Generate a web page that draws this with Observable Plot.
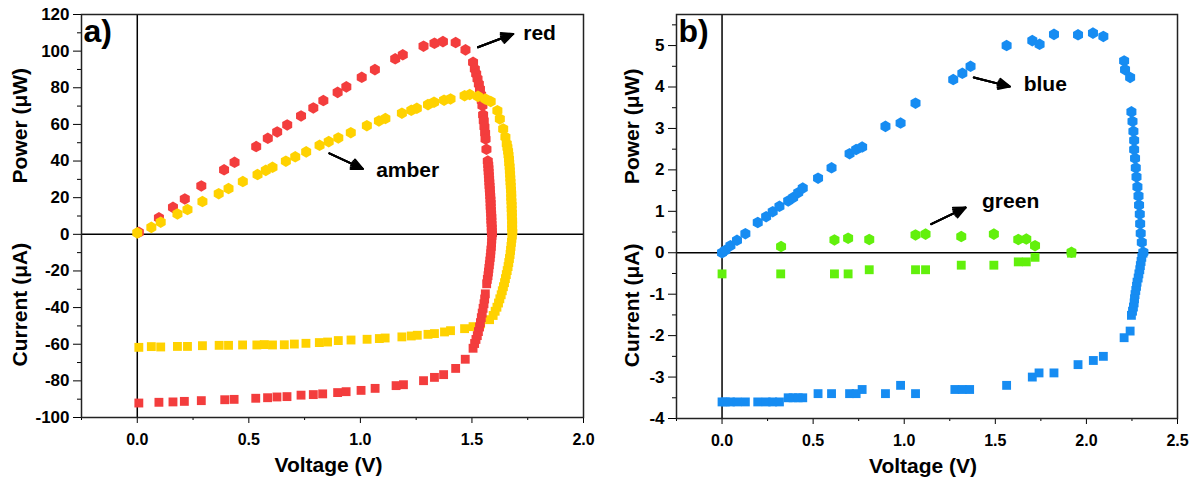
<!DOCTYPE html>
<html><head><meta charset="utf-8">
<script src="https://cdn.jsdelivr.net/npm/d3@7"></script>
<script src="https://cdn.jsdelivr.net/npm/@observablehq/plot@0.6"></script>
<style>
html,body{margin:0;padding:0;background:#fff;}
#wrap{position:relative;width:1195px;height:489px;overflow:hidden;background:#fff;}
#pa{position:absolute;left:0;top:0;}
#pb{position:absolute;left:600px;top:0;}
</style></head><body><div id="wrap"><div id="pa"></div><div id="pb"></div></div>
<script>
// ---------- Panel a data: [Voltage (V), value] ----------
const redPower = [[0.007,1.1],[0.097,9.0],[0.160,14.7],[0.213,19.3],[0.287,26.4],[0.389,35.2],[0.436,39.3],[0.533,47.9],[0.585,52.4],[0.627,55.9],[0.672,59.7],[0.734,64.6],[0.789,69.0],[0.834,73.0],[0.898,77.5],[0.937,80.5],[1.006,85.7],[1.065,89.9],[1.156,95.8],[1.190,98.0],[1.283,102.7],[1.332,104.3],[1.370,105.2],[1.427,104.7],[1.471,100.7],[1.505,93.9],[1.513,90.2],[1.519,87.6],[1.525,84.9],[1.531,82.0],[1.536,79.3],[1.541,76.1],[1.544,73.0],[1.547,70.3],[1.550,65.2],[1.553,62.0],[1.556,58.7],[1.559,55.3],[1.561,52.0],[1.565,46.4],[1.571,40.0],[1.573,37.9],[1.574,36.0],[1.575,34.1],[1.576,32.2],[1.577,30.3],[1.578,28.4],[1.579,26.5],[1.580,24.6],[1.581,22.7],[1.582,20.8],[1.583,18.9],[1.584,17.0],[1.584,15.1],[1.585,13.2],[1.586,11.3],[1.587,9.4],[1.587,7.5],[1.588,5.6],[1.589,3.7],[1.589,1.8],[1.590,0.2]];
const redCurrent = [[0.007,-92.1],[0.097,-91.7],[0.160,-91.5],[0.211,-91.2],[0.287,-90.8],[0.392,-90.3],[0.434,-90.1],[0.531,-89.5],[0.584,-89.2],[0.626,-88.8],[0.671,-88.6],[0.734,-87.8],[0.789,-87.5],[0.831,-87.1],[0.898,-86.4],[0.936,-85.9],[1.003,-85.2],[1.066,-84.1],[1.160,-82.6],[1.193,-82.1],[1.283,-79.9],[1.332,-78.1],[1.373,-76.6],[1.427,-73.2],[1.470,-68.2],[1.505,-62.2],[1.512,-59.6],[1.518,-57.4],[1.524,-55.3],[1.529,-53.1],[1.534,-50.6],[1.538,-48.2],[1.542,-45.5],[1.546,-43.0],[1.550,-40.4],[1.554,-37.9],[1.557,-35.3],[1.560,-32.5],[1.566,-27.0],[1.569,-24.6],[1.572,-22.6],[1.574,-20.6],[1.576,-18.6],[1.578,-16.6],[1.580,-14.6],[1.582,-12.6],[1.584,-10.6],[1.585,-8.6],[1.587,-6.6],[1.588,-4.6],[1.589,-2.6],[1.590,-0.6]];
const amberPower = [[0.000,0.8],[0.063,3.8],[0.105,6.6],[0.180,11.1],[0.225,13.5],[0.292,17.9],[0.365,22.2],[0.409,25.0],[0.473,28.8],[0.539,32.6],[0.576,34.9],[0.606,36.6],[0.666,39.9],[0.708,42.3],[0.757,45.0],[0.817,48.6],[0.858,50.6],[0.901,52.6],[0.957,55.5],[1.029,59.3],[1.083,61.9],[1.112,63.2],[1.186,66.1],[1.228,67.7],[1.253,68.8],[1.303,70.8],[1.330,72.1],[1.375,73.2],[1.404,73.9],[1.467,75.7],[1.490,76.3],[1.527,75.3],[1.560,73.9],[1.584,72.5],[1.614,67.5],[1.625,63.0],[1.640,57.5],[1.650,53.0],[1.656,49.4],[1.659,47.4],[1.662,45.3],[1.664,43.2],[1.666,41.1],[1.667,39.0],[1.669,36.9],[1.670,34.8],[1.671,32.7],[1.672,30.6],[1.673,28.5],[1.674,26.4],[1.675,24.3],[1.676,22.2],[1.676,20.1],[1.677,18.0],[1.678,15.9],[1.678,13.8],[1.679,11.7],[1.679,9.6],[1.680,7.5],[1.680,5.4],[1.680,3.3],[1.681,1.2]];
const amberCurrent = [[0.007,-61.7],[0.063,-61.3],[0.105,-61.5],[0.180,-61.2],[0.225,-61.2],[0.292,-60.8],[0.367,-60.6],[0.409,-60.6],[0.472,-60.4],[0.536,-60.4],[0.569,-60.2],[0.606,-60.4],[0.659,-60.3],[0.704,-59.9],[0.756,-59.5],[0.816,-59.1],[0.853,-58.8],[0.901,-58.0],[0.958,-57.7],[1.030,-57.3],[1.085,-56.9],[1.111,-56.6],[1.186,-56.0],[1.228,-55.5],[1.255,-55.1],[1.303,-54.6],[1.332,-54.2],[1.377,-53.3],[1.404,-52.6],[1.467,-51.5],[1.505,-50.4],[1.539,-48.9],[1.579,-46.6],[1.595,-44.3],[1.604,-42.0],[1.612,-39.8],[1.619,-37.5],[1.625,-35.2],[1.631,-33.0],[1.636,-30.8],[1.641,-28.6],[1.646,-26.4],[1.650,-24.2],[1.654,-22.0],[1.658,-19.8],[1.662,-17.6],[1.665,-15.4],[1.668,-13.2],[1.671,-11.0],[1.673,-8.8],[1.675,-6.6],[1.677,-4.4],[1.679,-2.2],[1.681,-0.4]];

// ---------- Panel b data ----------
const bluePower = [[0.000,0.00],[0.018,0.06],[0.046,0.17],[0.082,0.30],[0.128,0.46],[0.196,0.73],[0.242,0.87],[0.278,0.99],[0.315,1.12],[0.363,1.25],[0.390,1.33],[0.418,1.45],[0.443,1.56],[0.527,1.80],[0.601,2.05],[0.700,2.39],[0.736,2.49],[0.769,2.55],[0.897,3.05],[0.980,3.13],[1.062,3.61],[1.269,4.18],[1.319,4.33],[1.364,4.50],[1.562,5.00],[1.703,5.12],[1.743,5.03],[1.822,5.27],[1.954,5.26],[2.036,5.30],[2.093,5.22],[2.207,4.63],[2.212,4.42],[2.240,4.23],[2.247,3.40],[2.253,3.17],[2.258,2.93],[2.262,2.71],[2.262,2.49],[2.267,2.28],[2.271,2.05],[2.275,1.83],[2.280,1.59],[2.286,1.37],[2.289,1.15],[2.293,0.93],[2.295,0.70],[2.298,0.47],[2.304,0.25],[2.313,0.01]];
const blueCurrent = [[0.000,-3.60],[0.018,-3.60],[0.046,-3.60],[0.082,-3.60],[0.128,-3.60],[0.196,-3.60],[0.242,-3.60],[0.278,-3.60],[0.315,-3.60],[0.363,-3.50],[0.390,-3.50],[0.418,-3.50],[0.443,-3.50],[0.527,-3.40],[0.601,-3.40],[0.700,-3.40],[0.736,-3.40],[0.769,-3.30],[0.897,-3.40],[0.980,-3.20],[1.062,-3.40],[1.278,-3.30],[1.319,-3.30],[1.359,-3.30],[1.562,-3.20],[1.703,-3.00],[1.740,-2.90],[1.822,-2.90],[1.954,-2.70],[2.038,-2.60],[2.093,-2.50],[2.207,-2.05],[2.240,-1.89],[2.247,-1.51],[2.253,-1.41],[2.258,-1.31],[2.262,-1.21],[2.264,-1.11],[2.267,-1.01],[2.271,-0.91],[2.275,-0.81],[2.278,-0.71],[2.284,-0.61],[2.288,-0.51],[2.293,-0.41],[2.296,-0.31],[2.300,-0.21],[2.304,-0.11],[2.311,-0.01]];
const greenPower = [[0.324,0.15],[0.617,0.31],[0.692,0.35],[0.808,0.32],[1.062,0.43],[1.117,0.45],[1.313,0.39],[1.492,0.45],[1.626,0.32],[1.670,0.33],[1.718,0.17],[1.918,0.01]];
const greenCurrent = [[0.000,-0.51],[0.322,-0.51],[0.617,-0.51],[0.692,-0.51],[0.808,-0.41],[1.062,-0.41],[1.117,-0.41],[1.313,-0.30],[1.492,-0.30],[1.626,-0.22],[1.670,-0.22],[1.718,-0.11],[1.918,-0.01]];

// ---------- ticks ----------
const xTicksA = [0, 0.5, 1.0, 1.5, 2.0];
const xMinorA = [-0.25, 0.25, 0.75, 1.25, 1.75];
const yTicksA = [-100, -80, -60, -40, -20, 0, 20, 40, 60, 80, 100, 120];
const yMinorA = [-90, -70, -50, -30, -10, 10, 30, 50, 70, 90, 110];
const xTicksB = [0, 0.5, 1.0, 1.5, 2.0, 2.5];
const xMinorB = [-0.25, 0.25, 0.75, 1.25, 1.75, 2.25];
const yTicksB = [-4, -3, -2, -1, 0, 1, 2, 3, 4, 5];
const yMinorB = [-3.5, -2.5, -1.5, -0.5, 0.5, 1.5, 2.5, 3.5, 4.5, 5.5];

// ---------- annotations (data coords) ----------
const notesA = [{t: "red", x: 1.803, y: 109.6}, {t: "amber", x: 1.212, y: 34.8}];
const arrowsA = [{x1: 1.527, y1: 102.1, x2: 1.685, y2: 109.4}, {x1: 0.861, y1: 44.2, x2: 1.011, y2: 35.7}];
const notesB = [{t: "blue", x: 1.774, y: 4.07}, {t: "green", x: 1.584, y: 1.25}];
const arrowsB = [{x1: 1.382, y1: 4.23, x2: 1.580, y2: 4.01}, {x1: 1.148, y1: 0.69, x2: 1.337, y2: 1.09}];

const C = {red: "#f33d3d", amber: "#ffd200", blue: "#168cf2", green: "#62f00c"};
const FONT = "'Liberation Sans', Arial, Helvetica, sans-serif";
const fx = d => d[0], fy = d => d[1];

function arrowMarks(data) {
  // stacked heads of decreasing angle give a solid-looking arrowhead
  return [50, 34, 18].map(a => Plot.arrow(data, {x1: "x1", y1: "y1", x2: "x2", y2: "y2", stroke: "black", strokeWidth: 2, headLength: 11, headAngle: a}));
}

function panel(o) {
  return Plot.plot({
    width: o.width, height: 489,
    marginLeft: o.mL, marginRight: o.mR, marginTop: 14, marginBottom: o.mB,
    x: {domain: o.xDom}, y: {domain: o.yDom},
    style: {fontFamily: FONT, fontWeight: "bold", color: "black", background: "white", overflow: "visible"},
    marks: [
      Plot.axisX({ticks: o.xMaj, tickSize: 6, tickPadding: 10, fontSize: 16, fontWeight: "bold", label: null, tickFormat: d => d.toFixed(1)}),
      Plot.axisX({ticks: o.xMin, tickSize: 3, label: null, tickFormat: () => ""}),
      Plot.axisY({ticks: o.yMaj, tickSize: 8, tickPadding: 4, fontSize: 17, fontWeight: "bold", label: null, tickFormat: d => String(d)}),
      Plot.axisY({ticks: o.yMin, tickSize: 4, label: null, tickFormat: () => ""}),
      Plot.ruleY([0], {stroke: "black", strokeWidth: 1.5}),
      Plot.ruleX([0], {stroke: "black", strokeWidth: 1.5}),
      ...o.series.map(s => Plot.dot(s.data, {x: fx, y: fy, symbol: s.sym, r: s.r, fill: s.color, stroke: "none"})),
      Plot.frame({stroke: "#222", strokeWidth: 1.5}),
      Plot.text(o.notes, {x: "x", y: "y", text: "t", fontSize: 21, fontWeight: "bold", fill: "black"}),
      ...arrowMarks(o.arrows),
      Plot.text([o.label], {frameAnchor: "top-left", textAnchor: "start", lineAnchor: "top", dx: 2, dy: 5, fontSize: 32, fontWeight: "bold"}),
      Plot.text(["Voltage (V)"], {frameAnchor: "bottom", dx: -4, dy: 54, fontSize: 21, fontWeight: "bold"}),
      Plot.text(["Power (μW)"], {x: o.xDom[0], y: o.pY, dx: o.tDx, rotate: -90, fontSize: 21, fontWeight: "bold"}),
      Plot.text(["Current (μA)"], {x: o.xDom[0], y: o.cY, dx: o.tDx, rotate: -90, fontSize: 21, fontWeight: "bold"})
    ]
  });
}

document.getElementById("pa").append(panel({
  width: 600, mL: 81, mR: 17, mB: 72,
  xDom: [-0.25, 2.0], yDom: [-100, 120],
  xMaj: xTicksA, xMin: xMinorA, yMaj: yTicksA, yMin: yMinorA,
  series: [
    {data: redPower, sym: "hexagon", r: 5, color: C.red},
    {data: amberPower, sym: "hexagon", r: 5, color: C.amber},
    {data: amberCurrent, sym: "square", r: 5, color: C.amber},
    {data: redCurrent, sym: "square", r: 5, color: C.red}
  ],
  notes: notesA, arrows: arrowsA, label: "a)",
  pY: 59.3, cY: -38.4, tDx: -61.5
}));

document.getElementById("pb").append(panel({
  width: 595, mL: 76, mR: 18, mB: 71,
  xDom: [-0.25, 2.5], yDom: [-4, 5.75],
  xMaj: xTicksB, xMin: xMinorB, yMaj: yTicksB, yMin: yMinorB,
  series: [
    {data: bluePower, sym: "hexagon", r: 5, color: C.blue},
    {data: blueCurrent, sym: "square", r: 5, color: C.blue},
    {data: greenPower, sym: "hexagon", r: 5, color: C.green},
    {data: greenCurrent, sym: "square", r: 5, color: C.green}
  ],
  notes: notesB, arrows: arrowsB, label: "b)",
  pY: 3.05, cY: -1.27, tDx: -44.3
}));
</script></body></html>
